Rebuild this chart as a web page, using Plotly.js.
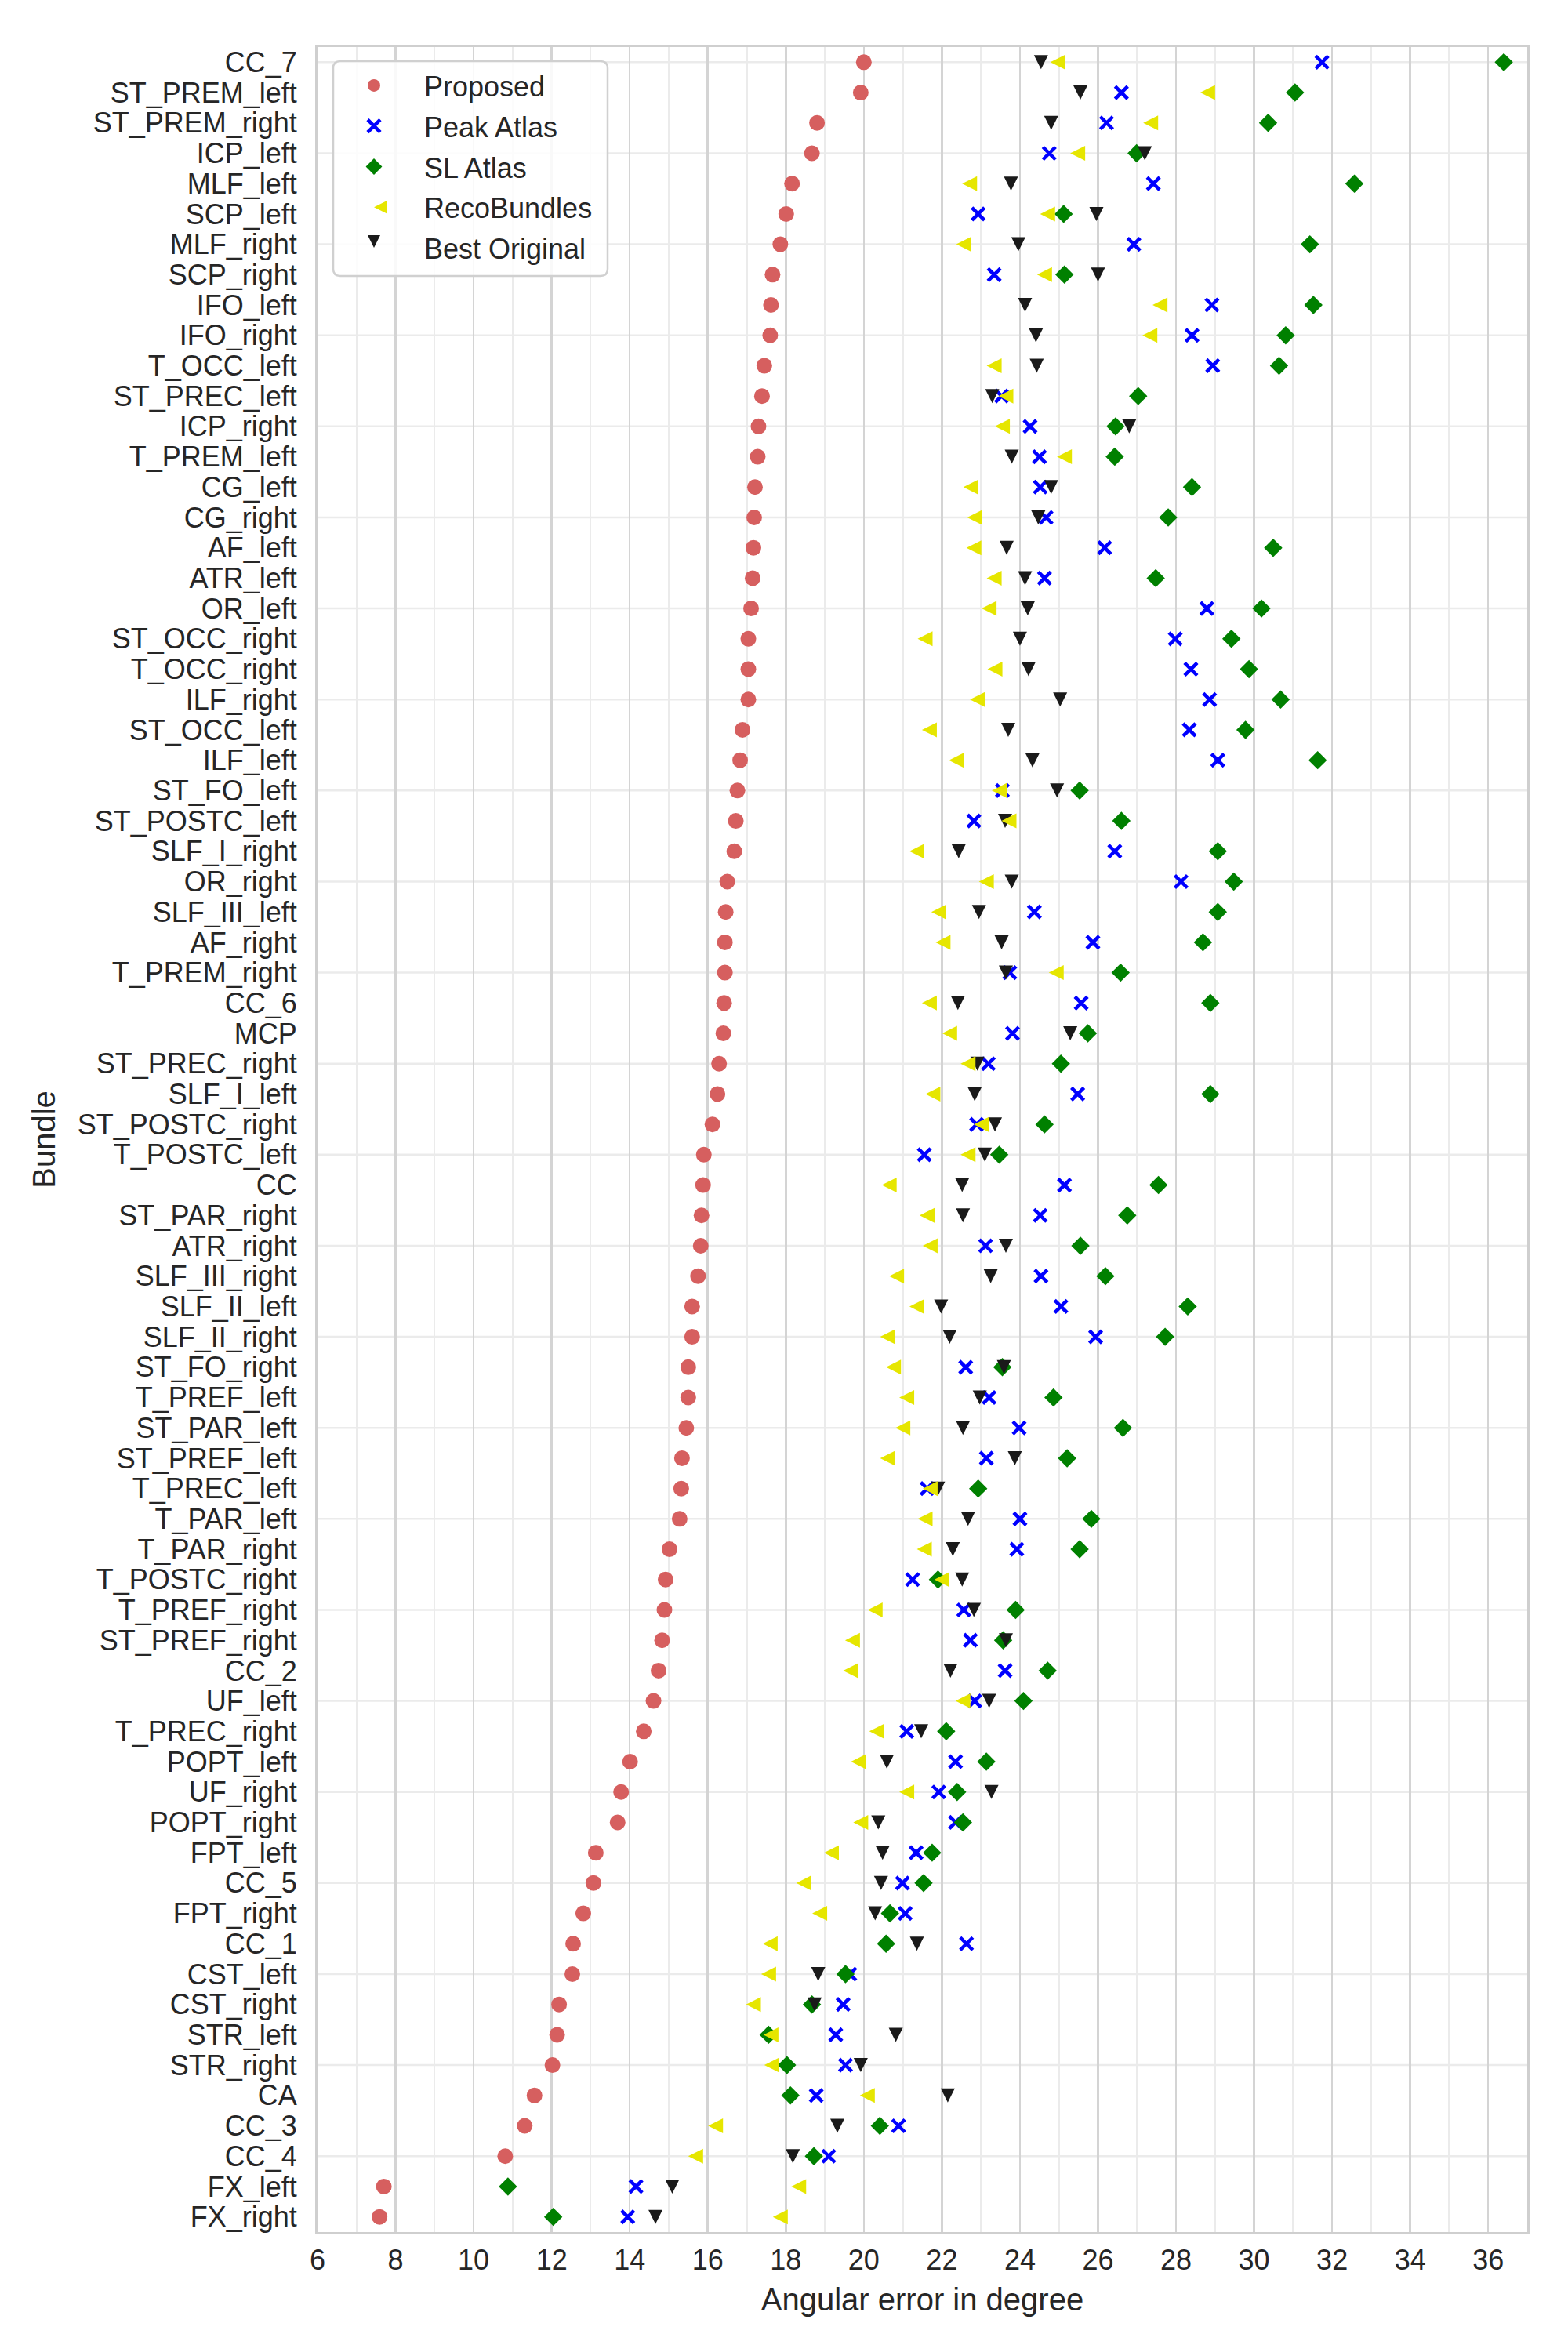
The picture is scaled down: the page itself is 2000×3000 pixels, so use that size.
<!DOCTYPE html>
<html>
<head>
<meta charset="utf-8">
<script src="https://cdn.plot.ly/plotly-3.0.1.min.js"></script>
<style>
  html, body { margin: 0; padding: 0; background: #ffffff; }
  #chart { width: 2000px; height: 3000px; }
</style>
</head>
<body>
<div id="chart"></div>
<script>
// Bundles, ordered from the largest to the smallest error of the proposed method
const bundles = [
  "CC_7", "ST_PREM_left", "ST_PREM_right", "ICP_left", "MLF_left", "SCP_left",
  "MLF_right", "SCP_right", "IFO_left", "IFO_right", "T_OCC_left", "ST_PREC_left",
  "ICP_right", "T_PREM_left", "CG_left", "CG_right", "AF_left", "ATR_left",
  "OR_left", "ST_OCC_right", "T_OCC_right", "ILF_right", "ST_OCC_left", "ILF_left",
  "ST_FO_left", "ST_POSTC_left", "SLF_I_right", "OR_right", "SLF_III_left", "AF_right",
  "T_PREM_right", "CC_6", "MCP", "ST_PREC_right", "SLF_I_left", "ST_POSTC_right",
  "T_POSTC_left", "CC", "ST_PAR_right", "ATR_right", "SLF_III_right", "SLF_II_left",
  "SLF_II_right", "ST_FO_right", "T_PREF_left", "ST_PAR_left", "ST_PREF_left", "T_PREC_left",
  "T_PAR_left", "T_PAR_right", "T_POSTC_right", "T_PREF_right", "ST_PREF_right", "CC_2",
  "UF_left", "T_PREC_right", "POPT_left", "UF_right", "POPT_right", "FPT_left",
  "CC_5", "FPT_right", "CC_1", "CST_left", "CST_right", "STR_left",
  "STR_right", "CA", "CC_3", "CC_4", "FX_left", "FX_right"
];

// Angular error (degrees) per bundle and method
const proposed = [
  20.00, 19.92, 18.80, 18.67, 18.16, 18.01,
  17.86, 17.66, 17.62, 17.60, 17.45, 17.39,
  17.30, 17.28, 17.21, 17.19, 17.17, 17.15,
  17.11, 17.04, 17.04, 17.04, 16.89, 16.83,
  16.76, 16.72, 16.68, 16.50, 16.46, 16.44,
  16.44, 16.42, 16.40, 16.29, 16.25, 16.12,
  15.90, 15.88, 15.84, 15.82, 15.75, 15.60,
  15.60, 15.50, 15.50, 15.45, 15.34, 15.32,
  15.28, 15.02, 14.92, 14.89, 14.83, 14.74,
  14.61, 14.36, 14.01, 13.78, 13.69, 13.13,
  13.07, 12.81, 12.55, 12.53, 12.19, 12.14,
  12.02, 11.56, 11.31, 10.81, 7.70, 7.59
];
const peakAtlas = [
  31.74, 26.60, 26.22, 24.75, 27.42, 22.93,
  26.92, 23.34, 28.92, 28.41, 28.94, 23.53,
  24.26, 24.50, 24.52, 24.67, 26.17, 24.63,
  28.79, 27.98, 28.38, 28.86, 28.34, 29.07,
  23.55, 22.82, 26.43, 28.13, 24.37, 25.87,
  23.74, 25.57, 23.81, 23.19, 25.48, 22.89,
  21.55, 25.14, 24.52, 23.12, 24.54, 25.05,
  25.94, 22.61, 23.21, 23.98, 23.14, 21.62,
  24.00, 23.92, 21.25, 22.56, 22.73, 23.62,
  22.84, 21.10, 22.35, 21.92, 22.35, 21.34,
  20.99, 21.06, 22.63, 19.64, 19.47, 19.28,
  19.53, 18.78, 20.89, 19.10, 14.16, 13.95
];
const slAtlas = [
  36.40, 31.05, 30.36, 26.99, 32.57, 25.12,
  31.43, 25.14, 31.52, 30.81, 30.64, 27.03,
  26.45, 26.43, 28.41, 27.80, 30.49, 27.48,
  30.19, 29.42, 29.87, 30.68, 29.78, 31.63,
  25.53, 26.60, 29.07, 29.48, 29.07, 28.69,
  26.58, 28.88, 25.74, 25.05, 28.88, 24.63,
  23.47, 27.55, 26.75, 25.55, 26.19, 28.30,
  27.72, 23.55, 24.86, 26.64, 25.21, 22.93,
  25.83, 25.53, 21.90, 23.89, 23.57, 24.71,
  24.09, 22.11, 23.14, 22.39, 22.54, 21.75,
  21.53, 20.67, 20.57, 19.53, 18.67, 17.56,
  18.03, 18.12, 20.41, 18.72, 10.88, 12.04
];
const recoBundles = [
  24.97, 28.81, 27.35, 25.48, 22.71, 24.71,
  22.56, 24.63, 27.59, 27.33, 23.34, 23.64,
  23.55, 25.14, 22.74, 22.84, 22.82, 23.34,
  23.21, 21.57, 23.36, 22.91, 21.68, 22.37,
  23.47, 23.72, 21.36, 23.14, 21.92, 22.03,
  24.93, 21.68, 22.20, 22.67, 21.77, 23.01,
  22.67, 20.65, 21.62, 21.70, 20.84, 21.36,
  20.61, 20.76, 21.10, 21.00, 20.61, 21.70,
  21.57, 21.55, 22.00, 20.29, 19.71, 19.66,
  22.54, 20.33, 19.86, 21.10, 19.92, 19.17,
  18.46, 18.87, 17.60, 17.56, 17.17, 17.62,
  17.64, 20.09, 16.20, 15.69, 18.33, 17.86
];
const bestOriginal = [
  24.54, 25.55, 24.80, 27.20, 23.77, 25.96,
  23.96, 26.00, 24.13, 24.41, 24.43, 23.29,
  26.80, 23.79, 24.80, 24.47, 23.66, 24.13,
  24.20, 24.00, 24.22, 25.03, 23.70, 24.32,
  24.95, 23.62, 22.43, 23.79, 22.95, 23.53,
  23.64, 22.41, 25.29, 22.91, 22.84, 23.36,
  23.10, 22.52, 22.54, 23.64, 23.25, 21.98,
  22.20, 23.59, 22.97, 22.54, 23.87, 21.90,
  22.67, 22.28, 22.52, 22.82, 23.64, 22.22,
  23.21, 21.47, 20.59, 23.27, 20.37, 20.48,
  20.44, 20.29, 21.36, 18.83, 18.74, 20.82,
  19.92, 22.15, 19.32, 18.18, 15.09, 14.66
];

const seriesNames = ["Proposed", "Peak Atlas", "SL Atlas", "RecoBundles", "Best Original"];

// ---- plot geometry (pixels) ----
const W = 2000, H = 3000;
const M = { l: 405, r: 52, t: 60, b: 153 };
const plotW = W - M.l - M.r, plotH = H - M.t - M.b;
const xRange = [6, 37];
const yRange = [bundles.length - 0.5, -0.5];
const pxPerX = plotW / (xRange[1] - xRange[0]);
const pxPerRow = plotH / bundles.length;
const px2x = p => (p - M.l) / plotW;
const px2y = p => 1 - (p - M.t) / plotH;

const textColor = "#262626";
const fontFamily = "'Liberation Sans', Arial, Helvetica, sans-serif";

// Triangle markers are drawn with Plotly's arrow glyph (tip on the anchor,
// equal width and height). Overlaid twin axes shifted by half a glyph keep
// each triangle centred on its value.
const triLeftSize = 19, triDownSize = 18;
const shiftX = (triLeftSize / 2) / pxPerX;
const shiftY = (triDownSize / 2) / pxPerRow;

const traces = [
  {
    name: seriesNames[0], legendgroup: "g0", x: proposed, y: bundles, type: "scatter", mode: "markers",
    marker: { symbol: "circle", size: 20, color: "#d65f5f", line: { width: 0 } }
  },
  {
    name: seriesNames[1], legendgroup: "g1", x: peakAtlas, y: bundles, type: "scatter", mode: "markers",
    marker: { symbol: "x-thin", size: 16, color: "#0000ff", line: { width: 4.5, color: "#0000ff" } }
  },
  {
    name: seriesNames[2], legendgroup: "g2", x: slAtlas, y: bundles, type: "scatter", mode: "markers",
    marker: { symbol: "diamond", size: 18, color: "#008000", line: { width: 0 } }
  },
  {
    name: seriesNames[3], legendgroup: "g3", x: recoBundles, y: bundles, type: "scatter", mode: "markers",
    xaxis: "x2", yaxis: "y",
    marker: { symbol: "arrow-up", angle: 270, size: triLeftSize, color: "#e6e600", line: { width: 0 } }
  },
  {
    name: seriesNames[4], legendgroup: "g4", x: bestOriginal, y: bundles, type: "scatter", mode: "markers",
    xaxis: "x", yaxis: "y2",
    marker: { symbol: "arrow-up", angle: 180, size: triDownSize, color: "#1a1a1a", line: { width: 0 } }
  }
];

// horizontal guide lines on every third bundle
const shapes = [];
for (let i = 0; i < bundles.length; i += 3) {
  shapes.push({
    type: "line", xref: "paper", x0: 0, x1: 1, yref: "y", y0: i, y1: i,
    line: { color: "#ebebeb", width: 2.5 }, layer: "below"
  });
}

// rounded legend frame
(function () {
  const L = 425, R = 775, T = 78, B = 352, rad = 9;
  const X = px2x, Y = px2y;
  const d = [
    `M ${X(L + rad)},${Y(T)}`,
    `L ${X(R - rad)},${Y(T)}`,
    `Q ${X(R)},${Y(T)} ${X(R)},${Y(T + rad)}`,
    `L ${X(R)},${Y(B - rad)}`,
    `Q ${X(R)},${Y(B)} ${X(R - rad)},${Y(B)}`,
    `L ${X(L + rad)},${Y(B)}`,
    `Q ${X(L)},${Y(B)} ${X(L)},${Y(B - rad)}`,
    `L ${X(L)},${Y(T + rad)}`,
    `Q ${X(L)},${Y(T)} ${X(L + rad)},${Y(T)}`,
    "Z"
  ].join(" ");
  shapes.push({
    type: "path", xref: "paper", yref: "paper", path: d,
    fillcolor: "rgba(255,255,255,0.85)", line: { color: "#d0d0d0", width: 2.5 }, layer: "above"
  });
})();

const hiddenAxis = {
  showgrid: false, zeroline: false, showline: false, showticklabels: false, ticks: "", fixedrange: true
};

const layout = {
  width: W, height: H,
  margin: M,
  paper_bgcolor: "#ffffff", plot_bgcolor: "#ffffff",
  font: { family: fontFamily, color: textColor, size: 36 },
  showlegend: true,
  legend: {
    x: px2x(413), y: px2y(79), xanchor: "left", yanchor: "top",
    bgcolor: "rgba(0,0,0,0)", borderwidth: 0,
    font: { family: fontFamily, size: 36, color: textColor },
    itemwidth: 118, tracegroupgap: 2
  },
  xaxis: {
    range: xRange, tick0: 6, dtick: 2, ticks: "",
    showgrid: true, gridcolor: "#d4d4d4", gridwidth: 2.5,
    minor: { tick0: 6, dtick: 1, showgrid: true, gridcolor: "#ebebeb", gridwidth: 2 },
    zeroline: false, showline: true, mirror: true, linecolor: "#cfcfcf", linewidth: 3,
    tickfont: { family: fontFamily, size: 36, color: textColor },
    ticklabelstandoff: 2,
    title: { text: "Angular error in degree", font: { family: fontFamily, size: 40, color: textColor }, standoff: 17 }
  },
  xaxis2: Object.assign({
    overlaying: "x", anchor: "y", range: [xRange[0] + shiftX, xRange[1] + shiftX]
  }, hiddenAxis),
  yaxis: {
    type: "category", categoryorder: "array", categoryarray: bundles,
    range: yRange, tickmode: "linear", tick0: 0, dtick: 1, ticks: "",
    showgrid: false, zeroline: false, showline: true, mirror: true, linecolor: "#cfcfcf", linewidth: 3,
    tickfont: { family: fontFamily, size: 36, color: textColor },
    ticklabelstandoff: 16,
    title: { text: "Bundle", font: { family: fontFamily, size: 40, color: textColor }, standoff: 16 }
  },
  yaxis2: Object.assign({
    type: "category", categoryorder: "array", categoryarray: bundles,
    overlaying: "y", anchor: "x", range: [yRange[0] - shiftY, yRange[1] - shiftY]
  }, hiddenAxis),
  shapes: shapes
};

Plotly.newPlot("chart", traces, layout, { displayModeBar: false, staticPlot: true });
</script>
</body>
</html>
